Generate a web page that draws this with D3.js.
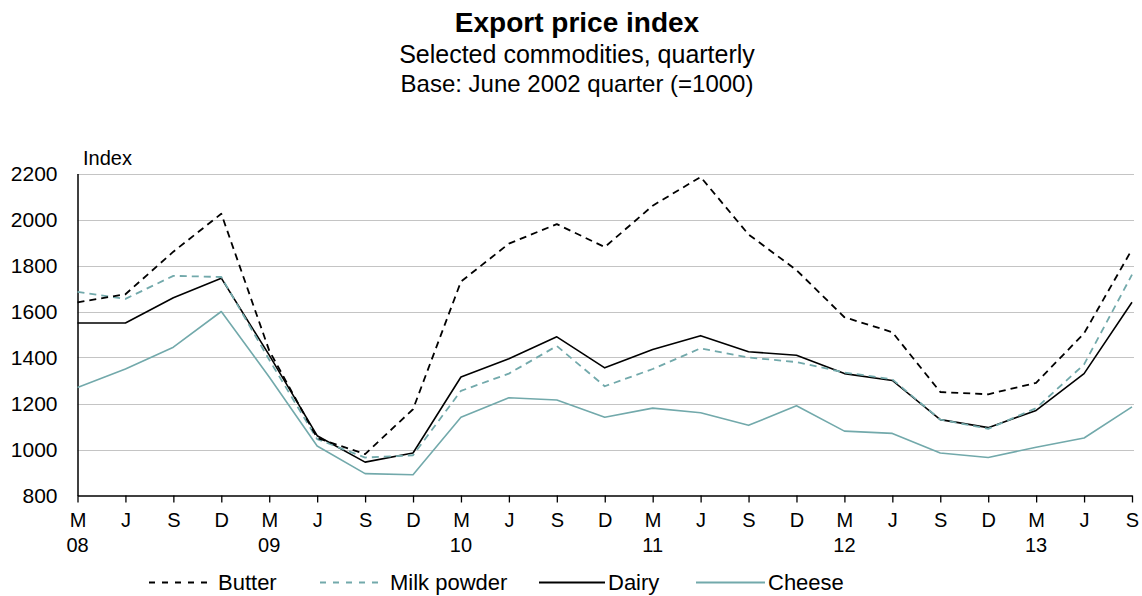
<!DOCTYPE html>
<html>
<head>
<meta charset="utf-8">
<script src="https://cdn.jsdelivr.net/npm/d3@7"></script>
<style>
  body { margin: 0; background: #fff; }
  svg text { font-family: "Liberation Sans", Arial, sans-serif; fill: #000; }
</style>
</head>
<body>
<svg id="chart" width="1142" height="596"></svg>
<script>
// Quarters, March 2008 to September 2013
const periods = [
  "M08", "J08", "S08", "D08",
  "M09", "J09", "S09", "D09",
  "M10", "J10", "S10", "D10",
  "M11", "J11", "S11", "D11",
  "M12", "J12", "S12", "D12",
  "M13", "J13", "S13"
];

// Index values (June 2002 quarter = 1000)
const butter = [1640, 1675, 1860, 2025, 1430, 1050, 980, 1175, 1730, 1895, 1980, 1880, 2060, 2185, 1935, 1780, 1575, 1510, 1250, 1240, 1290, 1505, 1870];
const milkPowder = [1685, 1655, 1755, 1750, 1390, 1045, 965, 975, 1255, 1330, 1450, 1275, 1350, 1440, 1400, 1380, 1335, 1305, 1130, 1090, 1180, 1370, 1760];
const dairy = [1550, 1550, 1660, 1745, 1410, 1060, 945, 985, 1315, 1395, 1490, 1355, 1435, 1495, 1425, 1410, 1330, 1300, 1130, 1095, 1170, 1330, 1640];
const cheese = [1270, 1350, 1445, 1600, 1315, 1015, 895, 890, 1140, 1225, 1215, 1140, 1180, 1160, 1105, 1190, 1080, 1070, 985, 965, 1010, 1050, 1185];

const yTicks = [800, 1000, 1200, 1400, 1600, 1800, 2000, 2200];

const teal = "#72a9ab";

const series = [
  { name: "Butter", values: butter, color: "#000", dash: "7,5", width: 1.8 },
  { name: "Milk powder", values: milkPowder, color: teal, dash: "7,5", width: 1.8 },
  { name: "Dairy", values: dairy, color: "#000", dash: null, width: 1.6 },
  { name: "Cheese", values: cheese, color: teal, dash: null, width: 1.6 }
];

const svg = d3.select("#chart");

// Titles
svg.append("text")
  .attr("x", 577).attr("y", 32)
  .attr("text-anchor", "middle")
  .style("font-size", "28px").style("font-weight", "bold")
  .text("Export price index");
svg.append("text")
  .attr("x", 577).attr("y", 63)
  .attr("text-anchor", "middle")
  .style("font-size", "25px")
  .text("Selected commodities, quarterly");
svg.append("text")
  .attr("x", 577).attr("y", 92)
  .attr("text-anchor", "middle")
  .style("font-size", "24px")
  .text("Base: June 2002 quarter (=1000)");

// Scales
const x = d3.scalePoint()
  .domain(periods)
  .range([77.5, 1132]);

const y = d3.scaleLinear()
  .domain([800, 2200])
  .range([495.5, 173.5]);

// Grid lines
svg.append("g")
  .selectAll("line")
  .data(yTicks.filter(d => d > 800))
  .join("line")
  .attr("x1", 77.5).attr("x2", 1134)
  .attr("y1", d => Math.round(y(d)) + 0.5)
  .attr("y2", d => Math.round(y(d)) + 0.5)
  .attr("stroke", "#c4c4c4")
  .attr("stroke-width", 1);

// Y axis
const yAxis = svg.append("g")
  .attr("transform", "translate(77.5,0)")
  .call(d3.axisLeft(y).tickValues(yTicks).tickFormat(d3.format("d"))
    .tickSize(0).tickPadding(20).tickSizeOuter(0));
yAxis.select(".domain").attr("stroke", "#000").attr("stroke-width", 1.5);
yAxis.selectAll("text").style("font-size", "21px").attr("dy", "0.35em");

svg.append("text")
  .attr("x", 83).attr("y", 165)
  .style("font-size", "20px")
  .text("Index");

// X axis
const xAxis = svg.append("g")
  .attr("transform", "translate(0,495.5)")
  .call(d3.axisBottom(x).tickSize(7).tickSizeOuter(0).tickPadding(10).tickFormat(d => d[0]));
xAxis.select(".domain").attr("stroke", "#000").attr("stroke-width", 1.5);
xAxis.selectAll(".tick line").attr("stroke", "#000").attr("stroke-width", 1.3);
xAxis.selectAll("text").style("font-size", "20px");

// Year labels under March quarters
svg.append("g")
  .selectAll("text")
  .data(periods.filter(d => d[0] === "M"))
  .join("text")
  .attr("x", d => x(d))
  .attr("y", 552)
  .attr("text-anchor", "middle")
  .style("font-size", "20px")
  .text(d => d.slice(1));

// Lines
const line = d3.line()
  .x((d, i) => x(periods[i]))
  .y(d => y(d));

svg.append("g")
  .selectAll("path")
  .data(series.slice().reverse())
  .join("path")
  .attr("d", d => line(d.values))
  .attr("fill", "none")
  .attr("stroke", d => d.color)
  .attr("stroke-width", d => d.width)
  .attr("stroke-dasharray", d => d.dash)
  .attr("stroke-linejoin", "round");

// Legend
const legendItems = [
  { x0: 149, x1: 211, tx: 218 },
  { x0: 320, x1: 380, tx: 390 },
  { x0: 539, x1: 605, tx: 608 },
  { x0: 696, x1: 765, tx: 768 }
];

const legend = svg.append("g");
series.forEach((s, i) => {
  const p = legendItems[i];
  legend.append("line")
    .attr("x1", p.x0).attr("x2", p.x1)
    .attr("y1", 582.5).attr("y2", 582.5)
    .attr("stroke", s.color)
    .attr("stroke-width", s.dash ? 1.8 : 2)
    .attr("stroke-dasharray", s.dash ? "6,7" : null);
  legend.append("text")
    .attr("x", p.tx).attr("y", 590)
    .style("font-size", "22px")
    .text(s.name);
});
</script>
</body>
</html>
